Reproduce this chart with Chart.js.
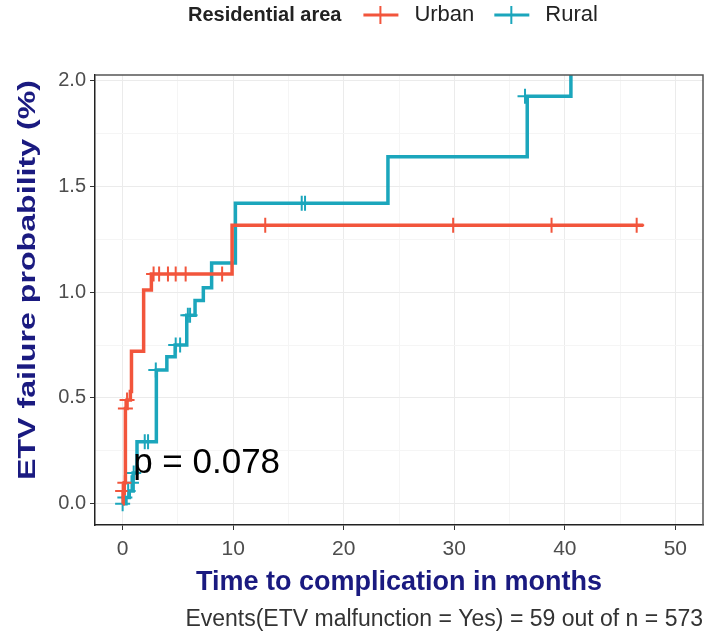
<!DOCTYPE html>
<html>
<head>
<meta charset="utf-8">
<script src="https://cdn.jsdelivr.net/npm/chart.js@4.4.1/dist/chart.umd.min.js"></script>
<style>
  html, body { margin: 0; padding: 0; background: #fff; }
  #wrap { width: 721px; height: 637px; position: relative; }
</style>
</head>
<body>
<div id="wrap"><canvas id="kmChart"></canvas></div>
<script>
// ETV FAILURE - KAPLAN-MEIER (cumulative)

const urbanTime = [0, 0.05, 0.15, 0.25, 0.4, 0.7, 0.8, 1.9, 2.6, 9.9, 47.1];
const urbanProb = [0, 0.05, 0.1, 0.45, 0.49, 0.53, 0.72, 1.01, 1.085, 1.315, 1.315];
const urbanCensorTime = [0, 0.2, 0.25, 0.4, 2.8, 3.3, 4.1, 4.8, 5.7, 9.0, 12.9, 29.9, 38.8, 46.5];
const urbanCensorProb = [0.06, 0.1, 0.45, 0.49, 1.085, 1.085, 1.085, 1.085, 1.085, 1.085, 1.315, 1.315, 1.315, 1.315];

const ruralTime = [0, 0.3, 0.6, 0.95, 1.3, 3.05, 4.0, 4.75, 5.8, 6.55, 7.3, 8.05, 10.2, 24.0, 36.6, 40.55];
const ruralProb = [0, 0.03, 0.06, 0.145, 0.293, 0.632, 0.695, 0.75, 0.89, 0.96, 1.02, 1.137, 1.419, 1.639, 1.925, 2.2];
const ruralCensorTime = [0, 0.2, 0.5, 0.8, 1.0, 2.0, 2.3, 3.0, 4.8, 5.2, 5.9, 6.1, 16.2, 16.5, 36.4];
const ruralCensorProb = [0, 0.03, 0.06, 0.1, 0.145, 0.293, 0.293, 0.632, 0.75, 0.75, 0.89, 0.89, 1.419, 1.419, 1.925];

const xTicks = [0, 10, 20, 30, 40, 50];
const yTicks = [0, 0.5, 1.0, 1.5, 2.0];
const groups = ["Urban", "Rural"];
const groupColors = ["#F2553C", "#1BA6BC"];
const pValue = "p = 0.078";
const eventsNote = "Events(ETV malfunction = Yes) = 59 out of n = 573";
const yTitle = "ETV failure probability (%)";

const fontFam = "'Liberation Sans', Arial, sans-serif";
const navy = "#1a1a80";

function toPoints(xs, ys) {
    return xs.map((x, i) => ({ x: x, y: ys[i] }));
}

// minor grid at half steps, labels only on major ticks
function withMinor(list) {
    const out = [];
    for (let i = 0; i < list.length; i++) {
        out.push(list[i]);
        if (i < list.length - 1) out.push((list[i] + list[i + 1]) / 2);
    }
    return out;
}

const kmData = {
    datasets: [
        {
            label: groups[0],
            data: toPoints(urbanTime, urbanProb),
            stepped: true,
            borderColor: groupColors[0],
            borderWidth: 3.5,
            pointRadius: 0,
            fill: false
        },
        {
            label: groups[1],
            data: toPoints(ruralTime, ruralProb),
            stepped: true,
            borderColor: groupColors[1],
            borderWidth: 3.5,
            pointRadius: 0,
            fill: false
        },
        {
            label: groups[0] + " censored",
            type: 'scatter',
            data: toPoints(urbanCensorTime, urbanCensorProb),
            pointStyle: 'cross',
            pointRadius: 7.5,
            borderColor: groupColors[0],
            borderWidth: 2
        },
        {
            label: groups[1] + " censored",
            type: 'scatter',
            data: toPoints(ruralCensorTime, ruralCensorProb),
            pointStyle: 'cross',
            pointRadius: 7.5,
            borderColor: groupColors[1],
            borderWidth: 2
        }
    ]
};

// legend row, y title, p value, note and the panel frame
const extras = {
    id: 'extras',
    afterDraw(chart) {
        const ctx = chart.ctx;
        const area = chart.chartArea;
        const xs = chart.scales.x;
        const ys = chart.scales.y;
        ctx.save();

        // frame top / right
        ctx.strokeStyle = "#555";
        ctx.lineWidth = 1.5;
        ctx.beginPath();
        ctx.moveTo(area.left, area.top);
        ctx.lineTo(area.right, area.top);
        ctx.lineTo(area.right, area.bottom);
        ctx.stroke();

        // y title, the source lettering is tall and narrow
        ctx.save();
        ctx.translate(29, 280);
        ctx.rotate(-Math.PI / 2);
        ctx.font = "bold 23px " + fontFam;
        const tw = ctx.measureText(yTitle).width;
        ctx.scale(400 / tw, 1);
        ctx.fillStyle = navy;
        ctx.textAlign = "center";
        ctx.textBaseline = "middle";
        ctx.fillText(yTitle, 0, 0);
        ctx.restore();

        // p value
        ctx.fillStyle = "#000";
        ctx.font = "35px " + fontFam;
        ctx.textAlign = "left";
        ctx.textBaseline = "middle";
        ctx.fillText(pValue, xs.getPixelForValue(0.95), ys.getPixelForValue(0.19));

        // events note
        ctx.fillStyle = "#333";
        ctx.font = "23px " + fontFam;
        ctx.textAlign = "right";
        ctx.fillText(eventsNote, 703, 620);

        // legend
        let lx = 188;
        const ly = 15;
        ctx.fillStyle = "#222";
        ctx.font = "bold 20px " + fontFam;
        ctx.textAlign = "left";
        ctx.fillText("Residential area", lx, ly);
        lx += ctx.measureText("Residential area").width + 22;
        ctx.font = "22px " + fontFam;
        groups.forEach((g, i) => {
            ctx.strokeStyle = groupColors[i];
            ctx.lineWidth = 3;
            ctx.beginPath();
            ctx.moveTo(lx, ly);
            ctx.lineTo(lx + 35, ly);
            ctx.stroke();
            ctx.lineWidth = 2;
            ctx.beginPath();
            ctx.moveTo(lx + 17, ly - 9);
            ctx.lineTo(lx + 17, ly + 9);
            ctx.stroke();
            lx += 51;
            ctx.fillStyle = "#222";
            ctx.fillText(g, lx, ly);
            lx += ctx.measureText(g).width + 20;
        });
        ctx.restore();
    }
};

const kmChart = new Chart(document.getElementById("kmChart"), {
    type: 'line',
    data: kmData,
    plugins: [extras],
    options: {
        responsive: true,
        maintainAspectRatio: false,
        animation: false,
        layout: { padding: { top: 75, right: 18, bottom: 36, left: 0 } },
        plugins: {
            legend: { display: false },
            tooltip: { enabled: false }
        },
        scales: {
            x: {
                type: 'linear',
                min: -2.5,
                max: 52.5,
                afterBuildTicks: (scale) => {
                    scale.ticks = withMinor(xTicks).map(v => ({ value: v }));
                },
                afterFit: (scale) => { scale.height = 76; },
                grid: {
                    color: (c) => (xTicks.includes(c.tick.value) ? "#ebebeb" : "#f5f5f5"),
                    tickColor: (c) => (xTicks.includes(c.tick.value) ? "#333" : "rgba(0,0,0,0)"),
                    tickLength: 5
                },
                border: { color: "#222", width: 1.5 },
                ticks: {
                    color: "#4d4d4d",
                    font: { family: fontFam, size: 21 },
                    padding: 7,
                    maxRotation: 0,
                    autoSkip: false,
                    callback: (v) => (xTicks.includes(v) ? String(v) : "")
                },
                title: {
                    display: true,
                    text: "Time to complication in months",
                    color: navy,
                    font: { family: fontFam, size: 27, weight: 'bold' },
                    padding: { top: 4, bottom: 2 }
                }
            },
            y: {
                min: -0.1,
                max: 2.025,
                afterBuildTicks: (scale) => {
                    scale.ticks = withMinor(yTicks).map(v => ({ value: v }));
                },
                afterFit: (scale) => { scale.width = 95; },
                grid: {
                    color: (c) => (yTicks.includes(c.tick.value) ? "#ebebeb" : "#f5f5f5"),
                    tickColor: (c) => (yTicks.includes(c.tick.value) ? "#333" : "rgba(0,0,0,0)"),
                    tickLength: 5
                },
                border: { color: "#222", width: 1.5 },
                ticks: {
                    color: "#4d4d4d",
                    font: { family: fontFam, size: 20 },
                    padding: 4,
                    autoSkip: false,
                    callback: (v) => (yTicks.includes(v) ? v.toFixed(1) : "")
                },
                title: { display: false }
            }
        }
    }
});
</script>
</body>
</html>
